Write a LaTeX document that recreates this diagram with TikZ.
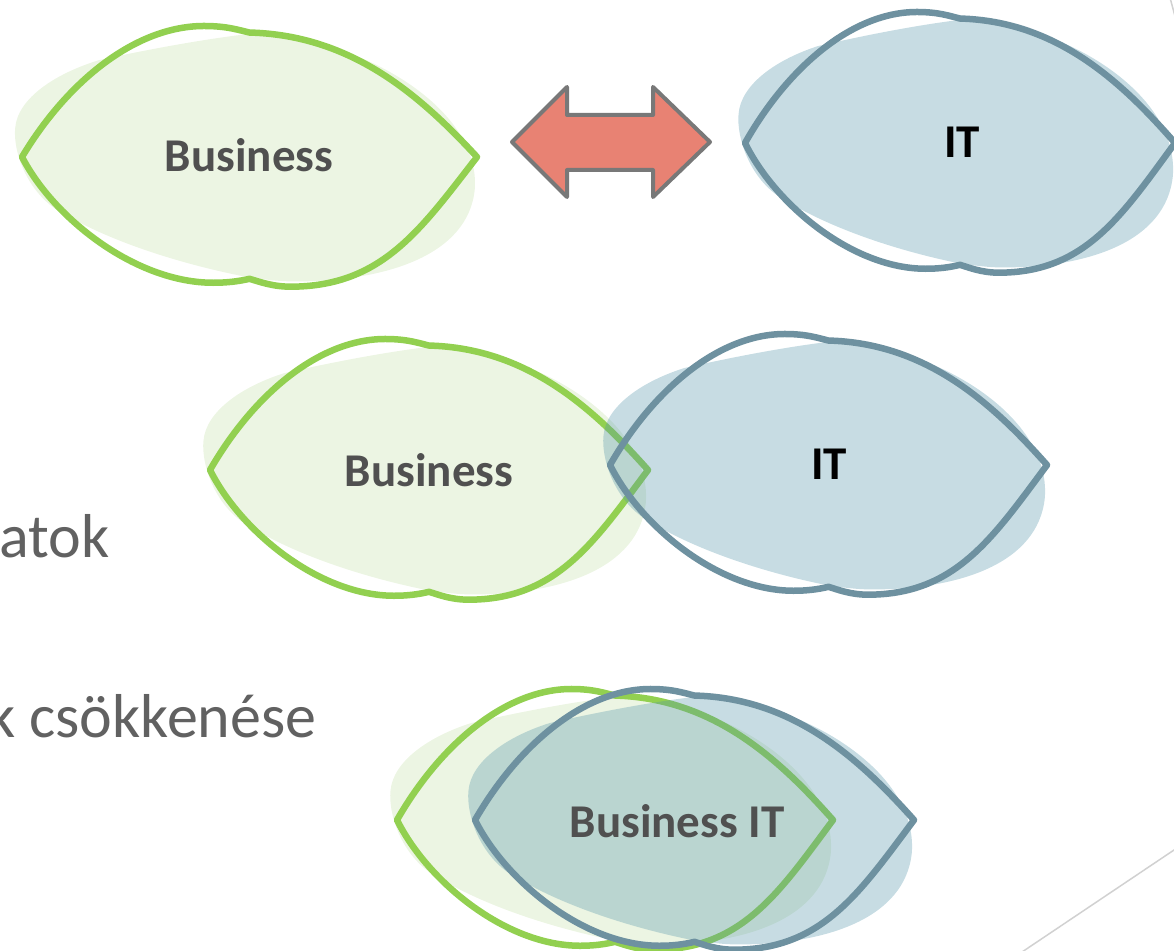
\documentclass[tikz,border=0pt]{standalone}
\usepackage{fontspec}
\usepackage{tikz}
\newfontfamily\calib{Carlito}

\definecolor{leafline}{RGB}{146,208,80}
\definecolor{leaffill}{RGB}{236,245,227}
\definecolor{steelline}{RGB}{110,145,160}
\definecolor{steelfill}{RGB}{85,150,170}
\definecolor{arrowred}{RGB}{232,130,115}
\definecolor{inkgrey}{RGB}{80,80,80}

\newcommand{\lens}[6]{%
\begin{scope}[shift={(#1,#2)},xscale=#3,yscale=#4]
\fill[#5] (-0.66,0.74) .. controls (-0.45,0.82) and (-0.2,0.9) .. (0,0.94)
  .. controls (0.45,0.94) and (1.02,0.4) .. (0.99,-0.25)
  .. controls (0.96,-0.75) and (0.6,-0.95) .. (0.2,-0.95)
  .. controls (0.12,-0.95) and (0.05,-0.93) .. (0,-0.92)
  .. controls (-0.3,-0.82) and (-0.6,-0.65) .. (-0.8,-0.45)
  .. controls (-0.98,-0.3) and (-1.04,0.05) .. (-1.03,0.22)
  .. controls (-1.02,0.45) and (-0.85,0.64) .. (-0.66,0.74) -- cycle;
\draw[#6] (-1,0) .. controls (-0.8,0.58) and (-0.5,1.0) .. (-0.2,1.0)
  .. controls (-0.1,1.0) and (-0.05,0.97) .. (0,0.95)
  .. controls (0.45,0.93) and (0.75,0.47) .. (1,0)
  .. controls (0.75,-0.56) and (0.58,-0.99) .. (0.18,-0.99)
  .. controls (0.1,-0.99) and (0.04,-0.95) .. (0,-0.93)
  .. controls (-0.05,-0.95) and (-0.1,-0.96) .. (-0.16,-0.96)
  .. controls (-0.5,-0.96) and (-0.86,-0.47) .. (-1,0) -- cycle;
\end{scope}}

\begin{document}
\begin{tikzpicture}[x=1pt,y=1pt,
  bizfill/.style={fill=leaffill},
  bizline/.style={draw=leafline,line width=6.5pt,line join=round},
  itfill/.style={fill=steelfill,fill opacity=0.33},
  itline/.style={draw=steelline,line width=6.5pt,line join=round},
  tag/.style={font=\calib\bfseries\fontsize{47}{56}\selectfont,text=inkgrey,anchor=base,inner sep=0pt},
  bullet/.style={font=\calib\fontsize{62}{74}\selectfont,text=black!62,anchor=base west,inner sep=0pt},
  twoway/.style={fill=arrowred,draw=black!53,line width=4pt,line join=round},
  edge/.style={draw=black!18,line width=1.5pt}]

\useasboundingbox (0,0) rectangle (1174,950);
\clip (0,0) rectangle (1174,950);

\node (t1) at (-1,392) [bullet] {atok};
\node (t2) at (-13,212) [bullet] {k csökkenése};

\lens{249.5}{793}{227.5}{131}{bizfill}{bizline}
\lens{960}{807}{215}{131}{itfill}{itline}

\lens{429}{480}{219}{131}{bizfill}{bizline}
\lens{828.5}{485}{218.5}{131}{itfill}{itline}

\lens{615}{130}{218}{131}{bizfill}{bizline}
\lens{694.5}{130}{219.5}{131}{itfill}{itline}

\node (b1) at (249,778) [tag] {Business};
\node (i1) at (962,792) [tag,text=black] {IT};
\node (b2) at (429,463) [tag] {Business};
\node (i2) at (829,470) [tag,text=black] {IT};
\node (bi) at (677,113) [tag] {Business IT};

\draw[twoway] (512,808) -- (567,863) -- (567,835) -- (653,835) -- (653,863)
  -- (710,808) -- (653,753) -- (653,780) -- (567,780) -- (567,753) -- cycle;

\draw[edge] (1022,-2) -- (1177,102);
\draw[edge] (1169,956) -- (1176,930);

\end{tikzpicture}
\end{document}
